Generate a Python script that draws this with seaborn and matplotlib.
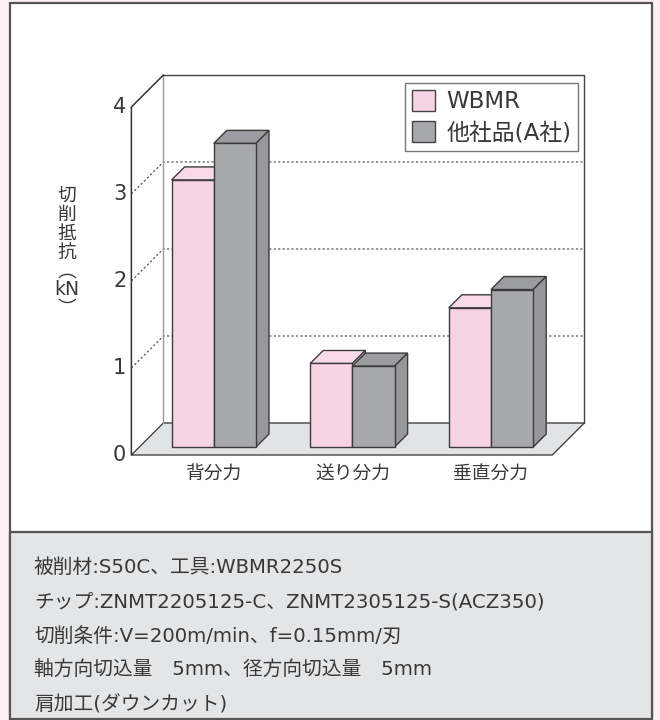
import matplotlib
matplotlib.use("Agg")
import matplotlib.pyplot as plt
import seaborn as sns
import pandas as pd
from matplotlib.patches import Polygon, Rectangle, Patch

# data
categories = ["背分力", "送り分力", "垂直分力"]
series = ["WBMR", "他社品(A社)"]
wbmr = [3.07, 0.96, 1.60]
other = [3.49, 0.93, 1.81]
yticks = [0, 1, 2, 3, 4]
ylabel = "切\n削\n抵\n抗\n︵\nkN\n︶"
notes = [
    "被削材:S50C、工具:WBMR2250S",
    "チップ:ZNMT2205125-C、ZNMT2305125-S(ACZ350)",
    "切削条件:V=200m/min、f=0.15mm/刃",
    "軸方向切込量\u30005mm、径方向切込量\u30005mm",
    "肩加工(ダウンカット)",
]

PINK, PINK_TOP, PINK_SIDE = "#f8d3e4", "#f9dae8", "#eec4d6"
GRAY, GRAY_TOP, GRAY_SIDE = "#a7a8ab", "#9b9c9f", "#97989b"
EDGE = "#3c3c3c"
BG = "#fdeef4"
TXT = "#383838"

sns.set_theme(style="white")
plt.rcParams["font.family"] = ["DejaVu Sans", "Noto Sans CJK JP"]

# pixel layout of the pseudo-3D box
W, H = 660, 720
PX, X0 = 138.6, 213.8   # pixels per category, pixel of first category
PY, Y0 = 87.0, 447.0    # pixels per kN, pixel row of 0 at bar front
FRONT, BACK, DEP = -8, 24, 13
xl, xr = -0.537, 2.50


def P(x, v, d):
    return (x + d / PX, v + d / PY)


fig = plt.figure(figsize=(6.6, 7.2), dpi=100, facecolor=BG)
fig.patches.append(Rectangle((10 / W, 1 - 719 / H), 641.7 / W, 716 / H,
                             transform=fig.transFigure, fc="white", ec="#555555", lw=1.6, zorder=-2))
fig.patches.append(Rectangle((10 / W, 1 - 719 / H), 641.7 / W, 187 / H,
                             transform=fig.transFigure, fc="#e4e5e7", ec="#555555", lw=1.6, zorder=-1))

ax = fig.add_axes([0, 0, 1, 1])

df = pd.DataFrame({
    "cat": categories * 2,
    "val": wbmr + other,
    "series": [series[0]] * 3 + [series[1]] * 3,
})
sns.barplot(data=df, x="cat", y="val", hue="series", palette=[PINK, GRAY],
            saturation=1, width=0.609, gap=0, errorbar=None, legend=False,
            edgecolor=EDGE, linewidth=1, ax=ax)

ax.set_xlim(-X0 / PX, (W - X0) / PX)
ax.set_ylim((Y0 - H) / PY, Y0 / PY)
ax.axis("off")

# floor
ax.add_patch(Polygon([P(xl, 0, FRONT), P(xr, 0, FRONT), P(xr, 0, BACK), P(xl, 0, BACK)],
                     closed=True, fc="#e2e3e5", ec="#444444", lw=1, zorder=1))
# back wall
bx = [P(xl, 0, BACK), P(xl, 4, BACK)]
ax.plot([p[0] for p in bx], [p[1] for p in bx], color="#999999", lw=1, zorder=1.2)
bw = [P(xl, 4, BACK), P(xr, 4, BACK), P(xr, 0, BACK)]
ax.plot([p[0] for p in bw], [p[1] for p in bw], color="#444444", lw=1, zorder=1.2)
# front axis and left wall top
fa = [P(xl, 0, FRONT), P(xl, 4, FRONT), P(xl, 4, BACK)]
ax.plot([p[0] for p in fa], [p[1] for p in fa], color="#333333", lw=1.1, zorder=1.3)

# dotted grid
for v in yticks[1:-1]:
    g = [P(xl, v, FRONT), P(xl, v, BACK), P(xr, v, BACK)]
    ax.plot([p[0] for p in g], [p[1] for p in g], color="#444444", lw=0.8,
            ls=(0, (2, 2)), zorder=1.1)

# tick labels
for v in yticks:
    px, py = P(xl, v, FRONT)
    ax.text(px - 5 / PX, py, str(v), ha="right", va="center", fontsize=15, color=TXT)

# 3D faces for bars
tops = [PINK_TOP, GRAY_TOP]
sides = [PINK_SIDE, GRAY_SIDE]
for k, cont in enumerate(ax.containers):
    for i, bar in enumerate(cont):
        x, w, h = bar.get_x(), bar.get_width(), bar.get_height()
        z = 3 + i * 0.2 + k * 0.1
        ax.add_patch(Polygon([P(x, h, 0), P(x + w, h, 0), P(x + w, h, DEP), P(x, h, DEP)],
                             closed=True, fc=tops[k], ec=EDGE, lw=1, zorder=z))
        ax.add_patch(Polygon([P(x + w, 0, 0), P(x + w, h, 0), P(x + w, h, DEP), P(x + w, 0, DEP)],
                             closed=True, fc=sides[k], ec=EDGE, lw=1, zorder=z))
        bar.set_zorder(z + 0.05)

# category labels
for i, c in enumerate(categories):
    ax.text(i, -26 / PY, c, ha="center", va="center", fontsize=13.5, color=TXT)

# vertical y label
ax.text((67 - X0) / PX, (Y0 - 252) / PY, ylabel, ha="center", va="center",
        fontsize=13.5, linespacing=0.98, color=TXT)

# legend
handles = [Patch(fc=PINK, ec="#444444", label=series[0]),
           Patch(fc=GRAY, ec="#444444", label=series[1])]
leg = fig.legend(handles=handles, loc="upper right", bbox_to_anchor=(578 / W, 1 - 83 / H),
                 frameon=True, fancybox=False, edgecolor="#555555", fontsize=16.5,
                 handlelength=1.0, handleheight=1.05, borderpad=0.3, labelspacing=0.32,
                 handletextpad=0.5, borderaxespad=0)
leg.get_frame().set_linewidth(1)
for t in leg.get_texts():
    t.set_color(TXT)

# conditions box text
for j, line in enumerate(notes):
    fig.text(34 / W, 1 - (567 + 34.5 * j) / H, line, ha="left", va="center",
             fontsize=14.2, color=TXT)

fig.savefig("out.png", dpi=100, facecolor=BG)
